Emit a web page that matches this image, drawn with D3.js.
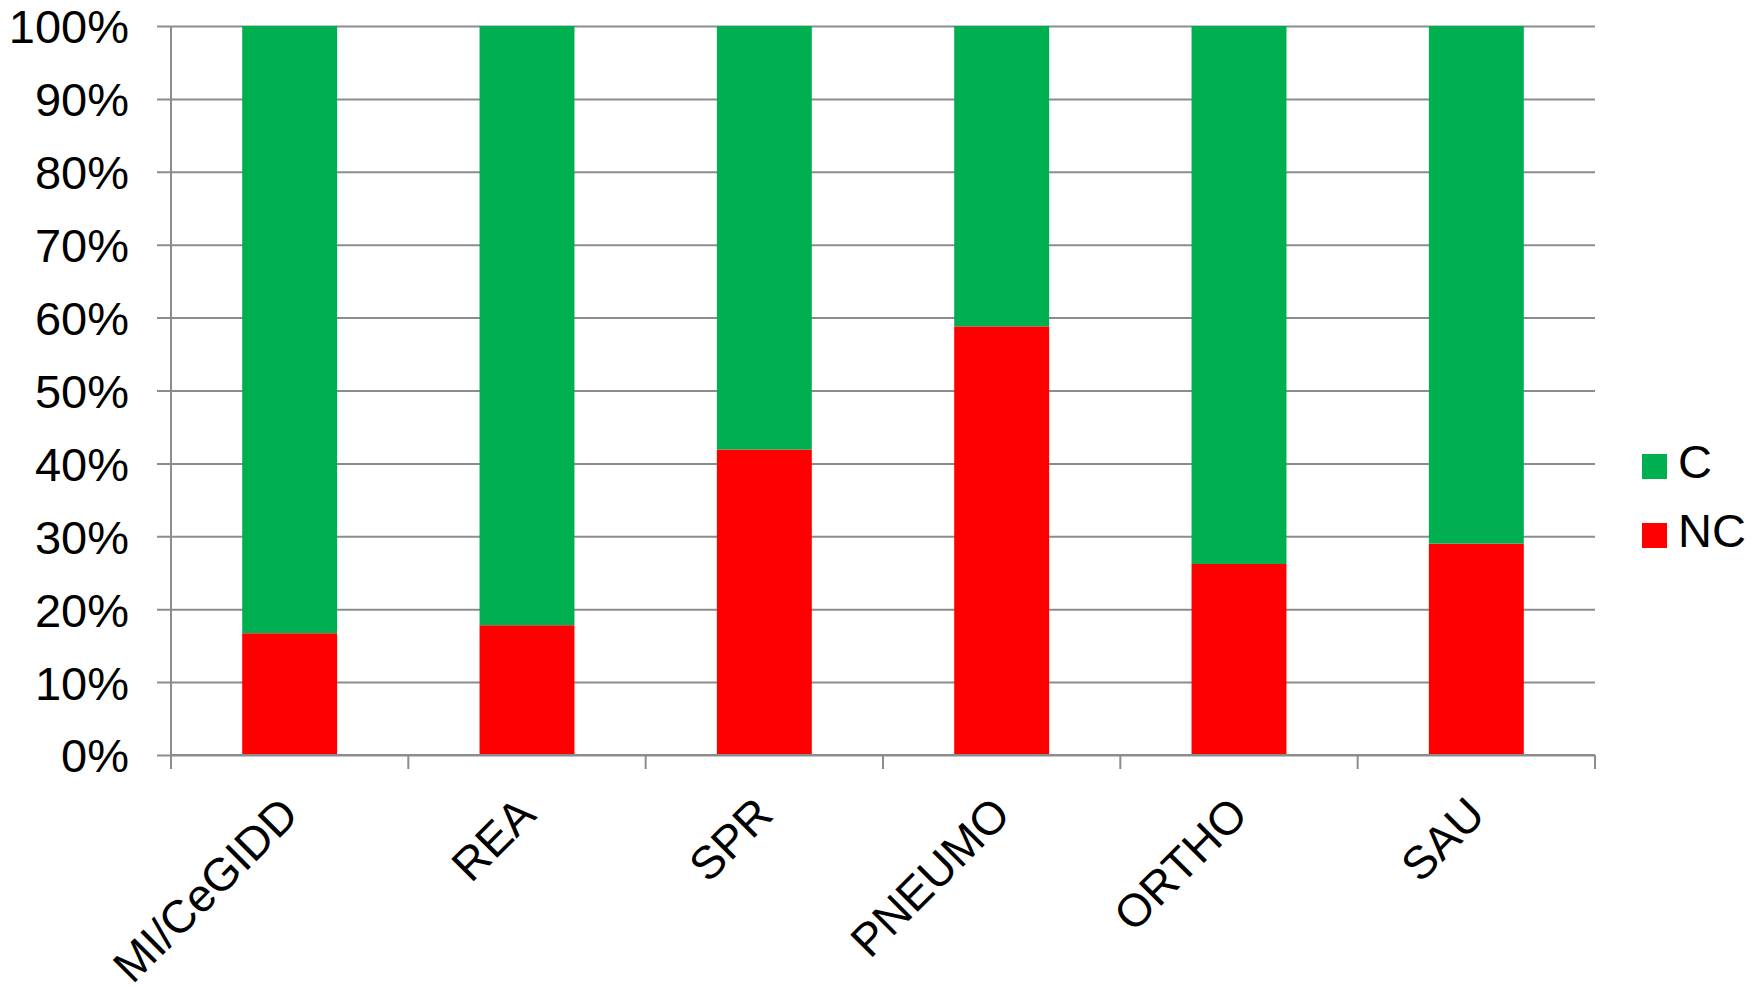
<!DOCTYPE html>
<html>
<head>
<meta charset="utf-8">
<script src="https://cdn.jsdelivr.net/npm/d3@7/dist/d3.min.js"></script>
<style>
  html, body { margin: 0; padding: 0; background: #ffffff; }
  svg { display: block; }
  text { font-family: "Liberation Sans", Arial, sans-serif; fill: #000; }
</style>
</head>
<body>
<svg id="chart" width="1759" height="987"></svg>
<script>
const categories = ["MI/CeGIDD", "REA", "SPR", "PNEUMO", "ORTHO", "SAU"];
const ncValues = [16.7, 17.8, 41.9, 58.8, 26.2, 29.0];
const cValues = [83.3, 82.2, 58.1, 41.2, 73.8, 71.0];
const seriesNames = ["NC", "C"];
const legendOrder = ["C", "NC"];
const yTicks = [0, 10, 20, 30, 40, 50, 60, 70, 80, 90, 100];

const colors = { C: "#00B050", NC: "#FF0000" };
const gridColor = "#8c8c8c";

const svg = d3.select("#chart");
const plotLeft = 171, plotRight = 1595, plotTop = 26, plotBottom = 755;

const x = d3.scaleBand().domain(categories).range([plotLeft, plotRight]).paddingInner(0.6).paddingOuter(0.3);
const xb = d3.scaleBand().domain(categories).range([plotLeft, plotRight]);
const y = d3.scaleLinear().domain([0, 100]).range([plotBottom, plotTop]);

// gridlines + y ticks
const yAxis = d3.axisLeft(y).tickValues(yTicks).tickSize(-(plotRight - plotLeft)).tickSizeOuter(0).tickFormat(d => d + "%").tickPadding(42);
const gy = svg.append("g").attr("transform", `translate(${plotLeft},0)`).call(yAxis);
gy.select(".domain").remove();
gy.selectAll(".tick line").attr("stroke", gridColor).attr("stroke-width", 2).attr("x1", -14);
gy.selectAll(".tick text").attr("font-size", 47).attr("font-family", "Liberation Sans, Arial, sans-serif").attr("fill", "#000").attr("dy", "0.36em");

// y axis line
svg.append("line").attr("x1", plotLeft).attr("x2", plotLeft).attr("y1", plotTop).attr("y2", plotBottom + 14)
  .attr("stroke", gridColor).attr("stroke-width", 2);

// stacked bars
const rows = categories.map((c, i) => ({ cat: c, NC: ncValues[i], C: cValues[i] }));
const stack = d3.stack().keys(seriesNames)(rows);
svg.append("g").selectAll("g").data(stack).join("g")
  .attr("fill", d => colors[d.key])
  .selectAll("rect").data(d => d).join("rect")
  .attr("x", d => x(d.data.cat))
  .attr("width", x.bandwidth())
  .attr("y", d => y(Math.min(d[1], 100)))
  .attr("height", d => y(d[0]) - y(Math.min(d[1], 100)));

// x axis
svg.append("line").attr("x1", plotLeft).attr("x2", plotRight).attr("y1", plotBottom).attr("y2", plotBottom)
  .attr("stroke", gridColor).attr("stroke-width", 2);
const boundaries = categories.map(c => xb(c)).concat([plotRight]);
svg.append("g").selectAll("line").data(boundaries).join("line")
  .attr("x1", d => d).attr("x2", d => d).attr("y1", plotBottom).attr("y2", plotBottom + 14)
  .attr("stroke", gridColor).attr("stroke-width", 2);

svg.append("g").selectAll("text").data(categories).join("text")
  .attr("transform", d => `translate(${xb(d) + xb.bandwidth() / 2 + 11},${plotBottom + 62}) rotate(-45)`)
  .attr("text-anchor", "end")
  .attr("font-size", 46)
  .text(d => d);

// legend
const lg = svg.append("g").selectAll("g").data(legendOrder).join("g")
  .attr("transform", (d, i) => `translate(1642,${454 + i * 69})`);
lg.append("rect").attr("width", 25).attr("height", 25).attr("fill", d => colors[d]);
lg.append("text").attr("x", 36).attr("y", 24).attr("font-size", 47).text(d => d);
</script>
</body>
</html>
